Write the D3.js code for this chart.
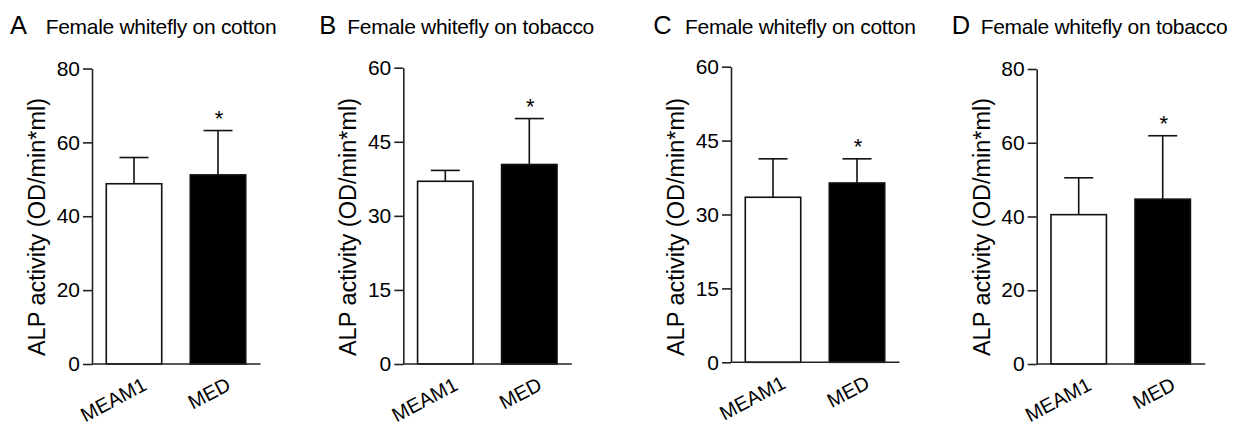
<!DOCTYPE html>
<html>
<head>
<meta charset="utf-8">
<script src="https://cdn.jsdelivr.net/npm/d3@7"></script>
<style>
  html, body { margin: 0; padding: 0; background: #fff; }
  svg { display: block; font-family: "Liberation Sans", Arial, Helvetica, sans-serif; }
</style>
</head>
<body>
<svg id="chart" width="1250" height="428"></svg>
<script>
// ---------- data ----------
const categories = ["MEAM1", "MED"];
const panelLetters = ["A", "B", "C", "D"];
const panelTitles = [
  "Female whitefly on cotton",
  "Female whitefly on tobacco",
  "Female whitefly on cotton",
  "Female whitefly on tobacco"
];
const meanA = [48.8, 51.2];
const meanB = [37.0, 40.4];
const meanC = [33.5, 36.4];
const meanD = [40.5, 44.7];
const errA = [7.1, 12.0];
const errB = [2.2, 9.3];
const errC = [7.8, 4.9];
const errD = [10.0, 17.2];
const significance = ["", "*"];
const yMaxes = [80, 60, 60, 80];
const ticksA = [0, 20, 40, 60, 80];
const ticksB = [0, 15, 30, 45, 60];
const ticksC = [0, 15, 30, 45, 60];
const ticksD = [0, 20, 40, 60, 80];
const yLabel = "ALP activity (OD/min*ml)";

const means = [meanA, meanB, meanC, meanD];
const errs = [errA, errB, errC, errD];
const ticks = [ticksA, ticksB, ticksC, ticksD];

// ---------- layout ----------
const axisX = [92, 403.3, 731, 1036.7];
const baseY = [364, 364, 362.3, 364];
const topY = [68.5, 67.7, 66.7, 69];
const letterDX = [-82, -84, -77.7, -85];
const titleDX = [-46.3, -56, -46, -56];
const plotW = 168;
const fills = ["#ffffff", "#000000"];

const svg = d3.select("#chart");

for (let p = 0; p < 4; p++) {
  const g = svg.append("g");
  const x0 = axisX[p];
  const x = d3.scaleBand().domain(categories)
    .range([x0, x0 + plotW]).paddingInner(0.34).paddingOuter(0.17);
  const y = d3.scaleLinear().domain([0, yMaxes[p]]).range([baseY[p], topY[p]]);

  // title
  g.append("text").attr("x", x0 + letterDX[p]).attr("y", 33.5)
    .attr("font-size", 25.5).attr("fill", "#000").text(panelLetters[p]);
  g.append("text").attr("x", x0 + titleDX[p]).attr("y", 33.8)
    .attr("font-size", 21).attr("fill", "#000").attr("letter-spacing", -0.3)
    .text(panelTitles[p]);

  const rows = categories.map((c, i) => ({ c, i, m: means[p][i], e: errs[p][i], s: significance[i] }));

  // error bars (upper only)
  const eg = g.append("g").attr("stroke", "#111").attr("stroke-width", 1.6).attr("fill", "none");
  rows.forEach(r => {
    const cx = x(r.c) + x.bandwidth() / 2;
    eg.append("line").attr("x1", cx).attr("x2", cx).attr("y1", y(r.m)).attr("y2", y(r.m + r.e));
    eg.append("line").attr("x1", cx - 14.5).attr("x2", cx + 14.5).attr("y1", y(r.m + r.e)).attr("y2", y(r.m + r.e));
  });

  // bars
  g.selectAll("rect.bar").data(rows).enter().append("rect")
    .attr("class", "bar")
    .attr("x", d => x(d.c))
    .attr("y", d => y(d.m))
    .attr("width", x.bandwidth())
    .attr("height", d => y(0) - y(d.m))
    .attr("fill", d => fills[d.i])
    .attr("stroke", "#111").attr("stroke-width", 1.6);

  // significance stars
  g.selectAll("text.star").data(rows.filter(r => r.s)).enter().append("text")
    .attr("class", "star")
    .attr("x", d => x(d.c) + x.bandwidth() / 2 + 1)
    .attr("y", d => y(d.m + d.e) - 5)
    .attr("text-anchor", "middle").attr("font-size", 22).attr("fill", "#000")
    .text(d => d.s);

  // y axis
  const yAxis = d3.axisLeft(y).tickValues(ticks[p]).tickSize(9).tickSizeOuter(0).tickPadding(3);
  const ya = g.append("g").attr("transform", `translate(${x0},0)`).call(yAxis);
  ya.select(".domain").attr("stroke", "#222").attr("stroke-width", 1.6);
  ya.selectAll(".tick line").attr("stroke", "#222").attr("stroke-width", 1.6);
  ya.selectAll(".tick text").attr("font-size", 21).attr("fill", "#000")
    .attr("font-family", "Liberation Sans, Arial, sans-serif");

  // x axis line
  g.append("line").attr("x1", x0).attr("x2", x0 + plotW + 0.5)
    .attr("y1", y(0)).attr("y2", y(0)).attr("stroke", "#222").attr("stroke-width", 1.6);

  // x labels
  g.selectAll("text.xl").data(categories).enter().append("text")
    .attr("class", "xl")
    .attr("transform", d => `translate(${x(d) + x.bandwidth() / 2 + 14},${baseY[p] + 25}) rotate(-28)`)
    .attr("text-anchor", "end").attr("font-size", 20).attr("fill", "#000")
    .text(d => d);

  // y label
  g.append("text")
    .attr("transform", `translate(${x0 - 47},227) rotate(-90)`)
    .attr("text-anchor", "middle").attr("font-size", 23.5).attr("fill", "#000")
    .text(yLabel);
}
</script>
</body>
</html>
